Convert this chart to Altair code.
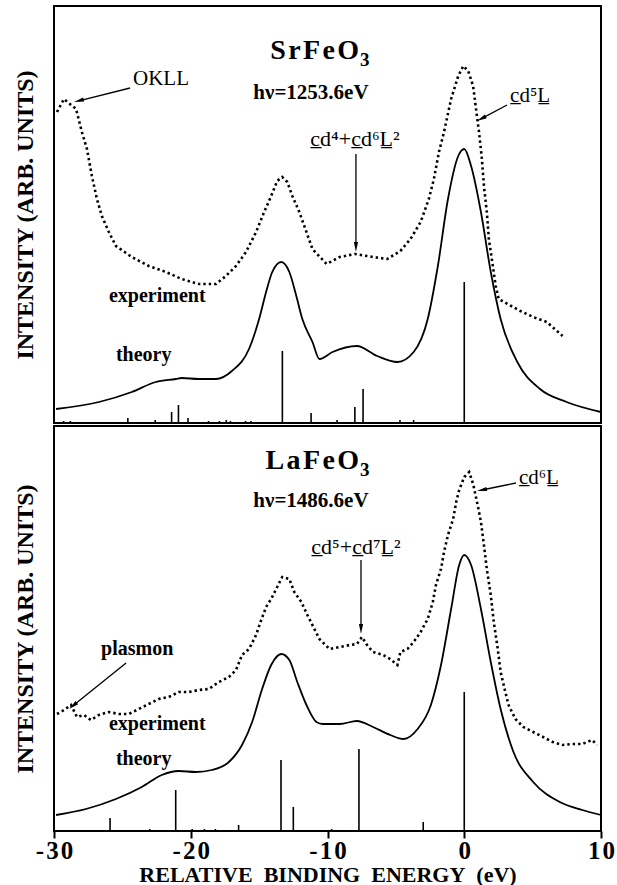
import math
import altair as alt
import pandas as pd

SERIF = "Liberation Serif"
W = 547
H_TOP = 417
H_BOT = 405
XMIN, XMAX = -30, 10
PX_PER_EV = W / (XMAX - XMIN)
HS = "\u200a"  # hair space used as letter spacing in the big titles

# ---------------- SrFeO3 (top panel) ----------------
top_exp_e = [-29.78, -29.27, -28.39, -27.96, -27.59, -27.23, -26.86, -26.50, -25.99, -25.47,
             -24.31, -23.07, -21.82, -20.66, -19.41, -18.16, -17.43, -16.69, -15.96, -15.22,
             -14.63, -14.12, -13.68, -13.31, -12.94, -12.57, -12.06, -11.54, -11.10, -10.07,
             -9.11, -8.00, -6.67, -5.63, -4.67, -3.93, -3.19, -2.59, -2.22, -1.85,
             -1.48, -0.96, -0.44, -0.07, 0.29, 0.65, 0.86, 1.08, 1.29, 1.44,
             1.65, 1.80, 2.09, 2.30, 2.52, 3.17, 4.10, 5.04, 6.04, 7.19]
top_exp_i = [311, 324, 314, 291, 274, 247, 224, 207, 191, 177,
             166, 157, 151, 144, 139, 139, 147, 157, 171, 191,
             211, 227, 242, 246, 241, 227, 211, 191, 174, 159,
             166, 169, 166, 164, 172, 184, 201, 224, 244, 271,
             291, 324, 347, 357, 352, 337, 314, 291, 264, 237,
             211, 184, 157, 137, 124, 119, 112, 106, 101, 87]

top_th_e = [-29.85, -26.71, -24.31, -22.55, -21.09, -20.66, -19.41, -18.16, -16.99, -15.74,
            -15.00, -14.49, -14.04, -13.38, -12.79, -12.28, -11.84, -11.10, -10.59, -9.63,
            -7.85, -6.37, -4.89, -3.70, -2.67, -1.93, -1.19, -0.44, 0.0, 0.50,
            1.22, 1.94, 2.66, 3.88, 5.54, 7.48, 10.0]
top_th_i = [14, 21, 31, 41, 44, 45, 44, 44, 52, 74,
            104, 131, 151, 161, 151, 127, 104, 81, 64, 71,
            77, 67, 61, 71, 104, 157, 224, 267, 274, 257,
            211, 151, 104, 61, 34, 21, 11]

top_stick_e = [-29.3, -28.8, -24.6, -22.6, -21.4, -20.9, -20.2, -18.7, -17.9, -17.4, -17.1,
               -16.0, -15.6, -13.3, -11.2, -9.3, -8.0, -7.4, -4.7, -3.7, 0.0]
top_stick_i = [2, 2, 5, 3, 11, 18, 5, 2, 2, 3, 2,
               2, 2, 72, 10, 3, 16, 34, 3, 3, 141]

# ---------------- LaFeO3 (bottom panel) ----------------
bot_exp_e = [-29.78, -29.27, -28.76, -28.32, -27.81, -27.30, -26.72, -25.99, -25.26, -24.53,
             -23.80, -23.07, -22.34, -21.61, -20.88, -20.15, -19.41, -18.68, -17.94, -17.21,
             -16.69, -16.25, -15.74, -15.22, -14.85, -14.49, -14.12, -13.68, -13.31, -12.79,
             -12.43, -11.91, -11.47, -10.96, -10.59, -9.85, -9.11, -8.37, -7.85, -7.48,
             -7.11, -6.67, -5.93, -5.41, -4.89, -4.67, -4.15, -3.70, -3.19, -2.67,
             -2.30, -2.07, -1.70, -1.48, -1.19, -0.81, -0.59, -0.37, 0.0, 0.36,
             0.65, 1.01, 1.22, 1.44, 1.65, 1.94, 2.16, 2.45, 2.66, 2.95,
             3.24, 3.74, 4.32, 5.04, 5.76, 6.47, 7.19, 7.91, 8.63, 9.35, 9.71]
bot_exp_i = [117, 121, 126, 114, 116, 111, 116, 119, 117, 117,
             122, 127, 132, 134, 139, 139, 141, 142, 149, 154,
             161, 176, 182, 196, 211, 224, 232, 244, 254, 252,
             239, 229, 216, 202, 192, 182, 184, 186, 187, 194,
             186, 179, 176, 172, 166, 179, 182, 189, 199, 212,
             229, 246, 262, 279, 296, 312, 329, 341, 354, 359,
             347, 324, 309, 286, 262, 236, 209, 182, 159, 142,
             126, 112, 104, 99, 94, 89, 86, 87, 87, 91, 86]

bot_th_e = [-29.85, -27.66, -25.47, -23.58, -22.12, -20.88, -19.63, -18.46, -17.21, -16.25,
            -15.51, -14.78, -14.12, -13.38, -12.79, -12.21, -11.54, -10.81, -10.35, -9.11,
            -7.85, -6.67, -5.41, -4.44, -3.41, -2.44, -1.70, -0.96, -0.37, 0.0,
            0.50, 1.22, 1.94, 2.66, 3.60, 5.04, 6.98, 8.63, 10.0]
bot_th_i = [16, 22, 32, 44, 56, 60, 59, 61, 69, 86,
            109, 142, 166, 177, 171, 149, 126, 109, 107, 107,
            110, 104, 96, 92, 102, 126, 166, 222, 266, 276,
            266, 222, 169, 122, 79, 49, 29, 21, 16]

bot_stick_e = [-25.9, -23.0, -21.1, -19.9, -19.0, -18.2, -16.5, -13.4, -12.5, -9.7, -7.7, -3.0, 0.0]
bot_stick_i = [13, 2, 41, 2, 2, 2, 6, 71, 24, 2, 82, 9, 139]

x_ticks = [-30, -20, -10, 0, 10]

# annotations: text, energy, intensity(baseline), align, fontsize, weight
top_labels = [
    (HS.join("SrFeO"), -7.70, 364, "right", 28, "bold"),
    ("3", -7.63, 357, "left", 19, "bold"),
    ("h\u03bd=1253.6eV", -11.21, 324, "center", 21, "bold"),
    ("c\u0332d\u2074+c\u0332d\u2076L\u0332\u00b2", -7.99, 277, "center", 22, "normal"),
    ("OKLL", -24.22, 338, "left", 21, "normal"),
    ("c\u0332d\u2075L\u0332", 3.35, 321, "left", 21, "normal"),
    ("experiment", -25.98, 121, "left", 20, "bold"),
    ("theory", -25.47, 62, "left", 20, "bold"),
]
top_arrows = [(-24.44, 335, -28.54, 321), (3.13, 318, 0.93, 302), (-7.92, 269, -7.92, 171)]

bot_labels = [
    (HS.join("LaFeO"), -7.70, 362, "right", 28, "bold"),
    ("3", -7.63, 355, "left", 19, "bold"),
    ("h\u03bd=1486.6eV", -11.21, 324, "center", 21, "bold"),
    ("c\u0332d\u2075+c\u0332d\u2077L\u0332\u00b2", -7.92, 277, "center", 22, "normal"),
    ("c\u0332d\u2076L\u0332", 4.0, 347, "left", 21, "normal"),
    ("plasmon", -26.56, 176, "left", 20, "bold"),
    ("experiment", -25.98, 101, "left", 20, "bold"),
    ("theory", -25.47, 66, "left", 20, "bold"),
]
bot_arrows = [(3.78, 348, 0.93, 340), (-7.55, 271, -7.55, 197), (-24.73, 168, -28.90, 122)]

ARROW = "M0,-1L0.42,1L-0.42,1Z"
HEAD = 10.0


def panel(exp_e, exp_i, th_e, th_i, st_e, st_i, ymax, labels, arrows, bottom):
    xs = alt.Scale(domain=[XMIN, XMAX], nice=False, zero=False)
    ys = alt.Scale(domain=[0, ymax], nice=False, zero=False)
    yaxis = alt.Axis(title="INTENSITY (ARB. UNITS)", labels=False, ticks=False, domain=False,
                     grid=False, titleFont=SERIF, titleFontSize=24, titleFontWeight="bold",
                     titleColor="black", titlePadding=17)
    if bottom:
        xaxis = alt.Axis(values=x_ticks,
                         title="RELATIVE\u2002BINDING\u2002ENERGY\u2002(eV)",
                         labelExpr="join(split('' + datum.value, ''), '\u200a')",
                         labelFont=SERIF, labelFontSize=25, labelFontWeight="bold",
                         labelColor="black", labelFlush=False, labelOverlap=False,
                         labelPadding=0, ticks=True, tickSize=7, tickWidth=2, tickColor="black",
                         domain=False, grid=False, titleFont=SERIF, titleFontSize=22,
                         titleFontWeight="bold", titleColor="black", titlePadding=1)
    else:
        xaxis = None

    X = alt.X("E:Q", scale=xs, axis=xaxis)
    Y = alt.Y("I:Q", scale=ys, axis=yaxis)
    layers = []
    exp_df = pd.DataFrame({"E": exp_e, "I": exp_i})
    layers.append(alt.Chart(exp_df).mark_line(color="black", strokeWidth=2.6,
                                               strokeDash=[2.4, 3.0], strokeCap="butt")
                  .encode(x=X, y=Y))
    th_df = pd.DataFrame({"E": th_e, "I": th_i})
    layers.append(alt.Chart(th_df).mark_line(color="black", strokeWidth=1.8, interpolate="monotone")
                  .encode(x=X, y=Y))
    st_df = pd.DataFrame({"E": st_e, "I": st_i})
    layers.append(alt.Chart(st_df).transform_calculate(base="0").mark_rule(color="black", strokeWidth=1.6)
                  .encode(x=X, y=Y, y2="base:Q"))

    for text, e, i, align, fs, fw in labels:
        df = pd.DataFrame({"E": [e], "I": [i], "t": [text]})
        layers.append(alt.Chart(df).mark_text(align=align, baseline="alphabetic", font=SERIF,
                                              fontSize=fs, fontWeight=fw, color="black")
                      .encode(x=X, y=Y, text="t:N"))

    for e1, i1, e2, i2 in arrows:
        dx = (e2 - e1) * PX_PER_EV
        dy = -(i2 - i1)
        L = math.hypot(dx, dy)
        ux, uy = dx / L, dy / L
        ec = e2 - ux * (HEAD / 2) / PX_PER_EV
        ic = i2 + uy * (HEAD / 2)
        ang = math.degrees(math.atan2(dx, -dy)) % 360
        df = pd.DataFrame({"E": [e1], "I": [i1], "E2": [ec], "I2": [ic]})
        layers.append(alt.Chart(df).mark_rule(color="black", strokeWidth=1.3)
                      .encode(x=X, x2="E2:Q", y=Y, y2="I2:Q"))
        hd = pd.DataFrame({"E": [ec], "I": [ic]})
        layers.append(alt.Chart(hd).mark_point(shape=ARROW, size=HEAD * HEAD, filled=True,
                                               color="black", opacity=1, strokeWidth=0, angle=ang)
                      .encode(x=X, y=Y))

    return alt.layer(*layers).properties(width=W, height=ymax)


top = panel(top_exp_e, top_exp_i, top_th_e, top_th_i, top_stick_e, top_stick_i,
            H_TOP, top_labels, top_arrows, False)
bot = panel(bot_exp_e, bot_exp_i, bot_th_e, bot_th_i, bot_stick_e, bot_stick_i,
            H_BOT, bot_labels, bot_arrows, True)

chart = (alt.vconcat(top, bot, spacing=0)
         .resolve_scale(x="independent", y="independent")
         .properties(padding={"left": 12, "top": 5, "right": 0, "bottom": 0}, background="white")
         .configure_view(stroke="black", strokeWidth=2))

chart.save("out.html", embed_options={"renderer": "svg", "actions": False})
